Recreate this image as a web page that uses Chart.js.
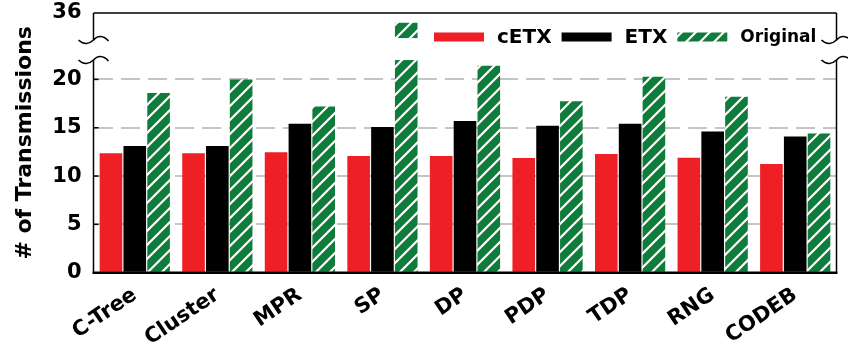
<!DOCTYPE html>
<html>
<head>
<meta charset="utf-8">
<script src="https://cdn.jsdelivr.net/npm/chart.js@4.4.0/dist/chart.umd.min.js"></script>
<style>
  html, body { margin: 0; padding: 0; background: #fff; }
  #wrap { width: 848px; height: 346px; }
</style>
</head>
<body>
<div id="wrap"><canvas id="graf"></canvas></div>
<script>
// hodnoty
const categories = ['C-Tree', 'Cluster', 'MPR', 'SP', 'DP', 'PDP', 'TDP', 'RNG', 'CODEB'];
const cetx     = [12.35, 12.35, 12.45, 12.07, 12.07, 11.86, 12.27, 11.90, 11.24];
const etx      = [13.10, 13.10, 15.40, 15.07, 15.70, 15.20, 15.40, 14.60, 14.10];
const original = [18.60, 20.00, 17.20, 35.00, 21.40, 17.75, 20.27, 18.20, 14.40];
const yTicks   = [0, 5, 10, 15, 20, 36];

// přerušená osa y
const BREAK_LOW = 22, BREAK_HIGH = 33.2, GAP = 2.07, Y_MAX = 36;
const TOTAL = BREAK_LOW + GAP + (Y_MAX - BREAK_HIGH);

const toDecimal = v => {
    if (v <= BREAK_LOW) return v / TOTAL;
    if (v >= BREAK_HIGH) return (BREAK_LOW + GAP + v - BREAK_HIGH) / TOTAL;
    return (BREAK_LOW + GAP * (v - BREAK_LOW) / (BREAK_HIGH - BREAK_LOW)) / TOTAL;
};
const fromDecimal = d => {
    const u = d * TOTAL;
    if (u <= BREAK_LOW) return u;
    if (u >= BREAK_LOW + GAP) return BREAK_HIGH + u - BREAK_LOW - GAP;
    return BREAK_LOW + (u - BREAK_LOW) / GAP * (BREAK_HIGH - BREAK_LOW);
};

class BrokenScale extends Chart.LinearScale {
    getPixelForValue(v) {
        return v == null ? NaN : this.getPixelForDecimal(toDecimal(v));
    }
    getValueForPixel(p) {
        return fromDecimal(this.getDecimalForPixel(p));
    }
}
BrokenScale.id = 'broken';
BrokenScale.defaults = Chart.LinearScale.defaults;
Chart.register(BrokenScale);

// šrafovaná výplň pro "Original"
const GREEN = '#0e7d3c';
const hatch = (() => {
    const c = document.createElement('canvas');
    c.width = 14; c.height = 14;
    const g = c.getContext('2d');
    g.fillStyle = GREEN;
    g.fillRect(0, 0, 14, 14);
    g.strokeStyle = '#fff';
    g.lineWidth = 2.2;
    g.beginPath();
    g.moveTo(-2, 16); g.lineTo(16, -2);
    g.moveTo(-2, 2); g.lineTo(2, -2);
    g.moveTo(12, 16); g.lineTo(16, 12);
    g.stroke();
    return g.createPattern(c, 'repeat');
})();

Chart.defaults.font.family = '"DejaVu Sans", sans-serif';
Chart.defaults.font.weight = 'bold';
Chart.defaults.color = '#000';

const line = (ctx, x1, y1, x2, y2) => {
    ctx.beginPath(); ctx.moveTo(x1, y1); ctx.lineTo(x2, y2); ctx.stroke();
};
const squiggle = (ctx, x, y) => {
    ctx.beginPath();
    ctx.moveTo(x - 15, y);
    ctx.bezierCurveTo(x - 10, y + 5, x - 4, y + 4, x, y);
    ctx.bezierCurveTo(x + 4, y - 5, x + 10, y - 5, x + 15, y + 1);
    ctx.stroke();
};

// rámeček, přerušení osy, vnitřní značky
const framePlugin = {
    id: 'frame',
    afterDatasetsDraw(chart) {
        const { ctx, chartArea: { left, right, top, bottom }, scales: { y } } = chart;
        const yHi = y.getPixelForValue(BREAK_HIGH);
        const yLo = y.getPixelForValue(BREAK_LOW);
        ctx.save();
        ctx.fillStyle = '#fff';
        ctx.fillRect(left + 1, yHi - 2, right - left - 2, yLo - yHi + 2);
        ctx.strokeStyle = '#000';
        ctx.lineWidth = 1.5;
        line(ctx, left, top, right, top);
        [left, right].forEach(x => {
            line(ctx, x, top, x, yHi);
            line(ctx, x, yLo, x, bottom);
        });
        yTicks.forEach(v => {
            if (v > 0 && v < Y_MAX) {
                const py = y.getPixelForValue(v);
                line(ctx, left, py, left + 5, py);
            }
        });
        ctx.lineWidth = 2.5;
        line(ctx, left - 1, bottom, right + 1, bottom);
        ctx.lineWidth = 1.5;
        [left, right].forEach(x => [yHi, yLo].forEach(yy => squiggle(ctx, x, yy)));
        ctx.restore();
    }
};

// legenda uvnitř grafu
const legendPlugin = {
    id: 'innerLegend',
    afterDraw(chart) {
        const ctx = chart.ctx;
        const sizes = [20, 20, 17];
        let x = 434;
        const yc = 37;
        ctx.save();
        ctx.textBaseline = 'middle';
        chart.data.datasets.forEach((ds, i) => {
            ctx.fillStyle = ds.backgroundColor;
            ctx.fillRect(x, yc - 4.5, 50, 9);
            x += 50 + 13;
            ctx.font = `bold ${sizes[i]}px "DejaVu Sans", sans-serif`;
            ctx.fillStyle = '#000';
            ctx.fillText(ds.label, x, yc + 1);
            x += ctx.measureText(ds.label).width + 10;
        });
        ctx.restore();
    }
};

new Chart(document.getElementById('graf'), {
    type: 'bar',
    data: {
        labels: categories,
        datasets: [
            { label: 'cETX', data: cetx, backgroundColor: '#ee1f25' },
            { label: 'ETX', data: etx, backgroundColor: '#000000' },
            { label: 'Original', data: original, backgroundColor: hatch }
        ]
    },
    options: {
        responsive: true,
        maintainAspectRatio: false,
        animation: false,
        layout: { padding: { top: 13, right: 11.5, left: 0, bottom: 0 } },
        datasets: { bar: { categoryPercentage: 0.865, barPercentage: 0.95 } },
        scales: {
            x: {
                grid: { display: false },
                border: { display: false },
                ticks: { font: { size: 21 }, maxRotation: 34, minRotation: 34, autoSkip: false, padding: 2 },
                afterFit: s => { s.height = 346 - 272.7; s.paddingLeft = 0; s.paddingRight = 0; }
            },
            y: {
                type: 'broken',
                min: 0,
                max: Y_MAX,
                afterBuildTicks: s => { s.ticks = yTicks.map(v => ({ value: v })); },
                ticks: { font: { size: 21 }, padding: 12 },
                grid: {
                    drawTicks: false,
                    lineWidth: 2,
                    color: c => (c.tick && (c.tick.value === 0 || c.tick.value === Y_MAX)) ? 'rgba(0,0,0,0)' : '#c4c4c4'
                },
                border: { display: false, dash: [19, 8] },
                title: { display: true, text: '# of Transmissions', font: { size: 22 }, padding: { top: 12, bottom: 0 } },
                afterFit: s => { s.width = 93.5; s.paddingTop = 0; s.paddingBottom = 0; }
            }
        },
        plugins: {
            legend: { display: false },
            tooltip: { enabled: false }
        }
    },
    plugins: [framePlugin, legendPlugin]
});
</script>
</body>
</html>
